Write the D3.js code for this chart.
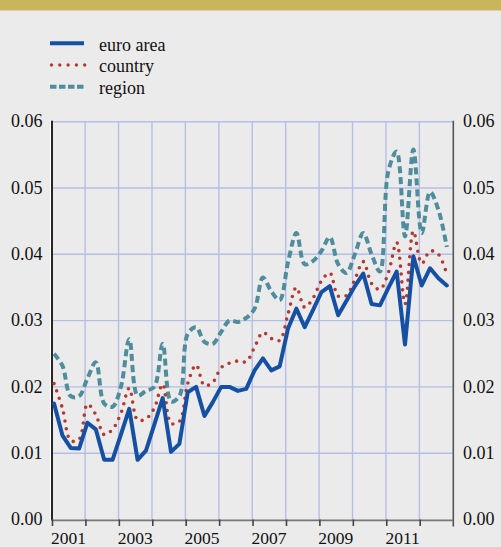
<!DOCTYPE html>
<html><head><meta charset="utf-8">
<script src="https://cdn.jsdelivr.net/npm/d3@7"></script>
<style>
html,body{margin:0;padding:0;background:#ebebeb;}
svg{display:block;}
</style></head><body>
<svg id="c" width="501" height="547"></svg>
<script>
// Quarterly data, 2001Q1 .. 2012Q4
const seriesNames = ["euro area", "country", "region"];
const euroArea = [0.0175,0.0127,0.0108,0.0107,0.0146,0.0136,0.0090,0.0090,0.0128,0.0167,0.0090,0.0104,
  0.0143,0.0183,0.0102,0.0114,0.0192,0.0200,0.0156,0.0177,0.0200,0.0200,0.0194,0.0197,
  0.0225,0.0243,0.0225,0.0231,0.0288,0.0318,0.0290,0.0316,0.0343,0.0352,0.0308,0.0330,
  0.0352,0.0371,0.0325,0.0323,0.0349,0.0374,0.0264,0.0397,0.0353,0.0379,0.0364,0.0353];
const country = [0.0205,0.0168,0.0119,0.0121,0.0174,0.0158,0.0128,0.0136,0.0160,0.0198,0.0150,0.0152,
  0.0168,0.0204,0.0145,0.0148,0.0205,0.0233,0.0202,0.0207,0.0229,0.0236,0.0239,0.0238,
  0.0260,0.0282,0.0273,0.0270,0.0310,0.0350,0.0320,0.0334,0.0360,0.0372,0.0337,0.0338,
  0.0362,0.0389,0.0356,0.0347,0.0372,0.0418,0.0325,0.0435,0.0386,0.0405,0.0400,0.0370];
const region = [0.0250,0.0232,0.0186,0.0186,0.0213,0.0237,0.0175,0.0170,0.0200,0.0272,0.0187,0.0194,
  0.0200,0.0265,0.0178,0.0186,0.0280,0.0290,0.0268,0.0265,0.0283,0.0300,0.0298,0.0304,
  0.0318,0.0365,0.0344,0.0331,0.0388,0.0432,0.0385,0.0390,0.0405,0.0426,0.0385,0.0372,
  0.0400,0.0432,0.0400,0.0374,0.0525,0.0555,0.0427,0.0558,0.0432,0.0494,0.0467,0.0411];
const startYear = 2001;
const yTicks = [0, 0.01, 0.02, 0.03, 0.04, 0.05, 0.06];
const xLabels = [2001, 2003, 2005, 2007, 2009, 2011];
const yearTicks = d3.range(2001, 2013);

const FONT = "'Liberation Serif', 'DejaVu Serif', serif";
const svg = d3.select("#c");
const L = 51.7, R = 452.8, T = 121.7, B = 519.5;
const x = d3.scaleLinear().domain([2001, 2013]).range([L, R]);
const y = d3.scaleLinear().domain([0, 0.06]).range([B, T]);
const tOf = i => startYear + 0.07 + i * 0.25;

// top band
svg.append("rect").attr("x",0).attr("y",0).attr("width",501).attr("height",10.5).attr("fill","#c9b55c");

// grid
const grid = svg.append("g").attr("stroke","#b6bee6").attr("stroke-width",1.4);
grid.selectAll("line.h").data(yTicks.filter(d=>d>0)).join("line")
  .attr("x1",L).attr("x2",R).attr("y1",d=>y(d)).attr("y2",d=>y(d));
grid.selectAll("line.v").data(yearTicks.filter(d=>d>2001)).join("line")
  .attr("x1",d=>x(d)).attr("x2",d=>x(d)).attr("y1",T).attr("y2",B);

// axes lines
svg.append("line").attr("x1",L-1.2).attr("x2",L-1.2).attr("y1",T-1).attr("y2",B+1).attr("stroke","#fff").attr("stroke-width",1);
svg.append("line").attr("x1",L+0.3).attr("x2",L+0.3).attr("y1",T-1).attr("y2",B+1).attr("stroke","#111").attr("stroke-width",1.8);
svg.append("line").attr("x1",R+0.5).attr("x2",R+0.5).attr("y1",T-1).attr("y2",B+7).attr("stroke","#555").attr("stroke-width",1.6);
svg.append("line").attr("x1",L).attr("x2",R).attr("y1",B+0.8).attr("y2",B+0.8).attr("stroke","#777").attr("stroke-width",1.8);
const xt = svg.append("g").attr("stroke","#444").attr("stroke-width",1.6);
xt.selectAll("line").data(yearTicks).join("line")
  .attr("x1",d=>x(d)+0.8).attr("x2",d=>x(d)+0.8).attr("y1",B).attr("y2",B+6.5);

const txt = svg.append("g").attr("font-family", FONT).attr("fill","#111");
// y labels
txt.append("g").selectAll("text").data(yTicks).join("text")
  .attr("x",42.5).attr("y",d=>y(d)).attr("dy","0.32em").attr("text-anchor","end")
  .attr("font-size",18).text(d=>d3.format(".2f")(d));
txt.append("g").selectAll("text").data(yTicks).join("text")
  .attr("x",463).attr("y",d=>y(d)).attr("dy","0.32em").attr("text-anchor","start")
  .attr("font-size",18).text(d=>d3.format(".2f")(d));
// x labels
txt.append("g").selectAll("text").data(xLabels).join("text")
  .attr("x",d=>x(d+0.5)).attr("y",544).attr("text-anchor","middle")
  .attr("font-size",17.5).text(d=>d);

// lines
const lineLin = d3.line().x((d,i)=>x(tOf(i))).y(d=>y(d));
const lineSm = d3.line().x((d,i)=>x(tOf(i))).y(d=>y(d)).curve(d3.curveCatmullRom.alpha(0.5));
const styles = [
  {data: region, gen: lineSm, stroke:"#4f8d9c", width:4, dash:"7,4", cap:"butt"},
  {data: country, gen: lineSm, stroke:"#b5392e", width:3.6, dash:"0,7.8", cap:"round"},
  {data: euroArea, gen: lineLin, stroke:"#1650a2", width:4, dash:null, cap:"round"}
];
styles.forEach(s=>{
  svg.append("path").attr("d", s.gen(s.data)).attr("fill","none")
    .attr("stroke",s.stroke).attr("stroke-width",s.width)
    .attr("stroke-dasharray",s.dash).attr("stroke-linecap",s.cap).attr("stroke-linejoin","round");
});

// legend
const leg = [
  {name: seriesNames[0], stroke:"#1650a2", width:4, dash:null, cap:"butt", x1:50, x2:84},
  {name: seriesNames[1], stroke:"#b5392e", width:3.4, dash:"0,8.3", cap:"round", x1:51.5, x2:86},
  {name: seriesNames[2], stroke:"#4f8d9c", width:4, dash:"6.5,2.5", cap:"butt", x1:50, x2:84}
];
leg.forEach((d,i)=>{
  const ly = 43.3 + i*21.7;
  svg.append("line").attr("x1",d.x1).attr("x2",d.x2).attr("y1",ly).attr("y2",ly)
    .attr("stroke",d.stroke).attr("stroke-width",d.width).attr("stroke-dasharray",d.dash).attr("stroke-linecap",d.cap);
  txt.append("text").attr("x",99).attr("y",ly+7.2).attr("font-size",18).text(d.name);
});
</script></body></html>
